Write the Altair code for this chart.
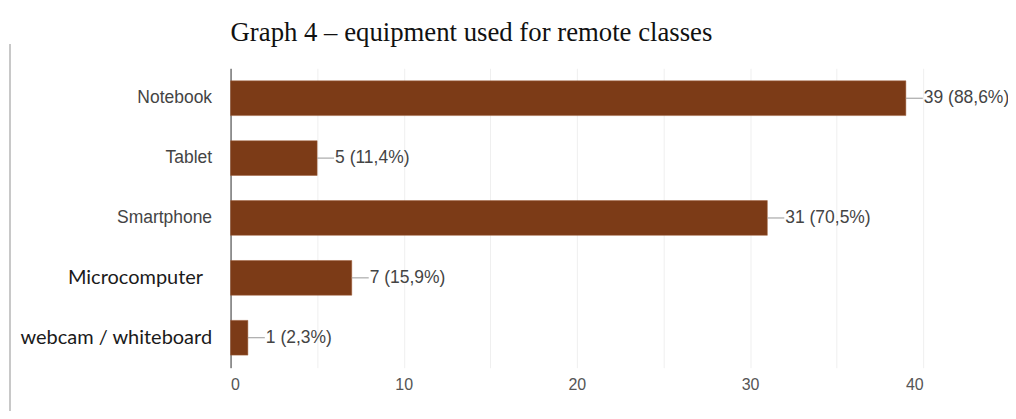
import altair as alt
import pandas as pd

categories = ["Notebook", "Tablet", "Smartphone", "Microcomputer", "webcam / whiteboard"]
counts = [39, 5, 31, 7, 1]
labels = ["39 (88,6%)", "5 (11,4%)", "31 (70,5%)", "7 (15,9%)", "1 (2,3%)"]
grid_vals = [0, 5, 10, 15, 20, 25, 30, 35, 40]

df = pd.DataFrame({"cat": categories, "n": counts, "lab": labels})

BROWN = "#7c3b17"

is_alt = "indexof(['Microcomputer','webcam / whiteboard'], datum.value) >= 0"
label_font = alt.ExprRef(is_alt + " ? 'Lato' : 'Liberation Sans'")
label_color = alt.ExprRef(is_alt + " ? '#1a1a1a' : '#444444'")
label_size = alt.ExprRef(is_alt + " ? 20 : 17.5")

x = alt.X(
    "n:Q",
    scale=alt.Scale(domain=[0, 40], nice=False),
    axis=alt.Axis(
        values=grid_vals,
        labelExpr="datum.value % 10 == 0 ? datum.label : ''",
        title=None,
        domain=False,
        ticks=False,
        grid=True,
        gridColor="#efefef",
        labelColor="#555555",
        labelFont="Liberation Sans",
        labelFontSize=16,
        labelPadding=9,
    ),
)
y = alt.Y(
    "cat:N",
    sort=categories,
    scale=alt.Scale(paddingInner=0.42, paddingOuter=0.21),
    axis=alt.Axis(
        title=None,
        ticks=False,
        domainColor="#333333",
        labelFont=label_font,
        labelColor=label_color,
        labelFontSize=label_size,
        labelPadding=alt.ExprRef("datum.value == 'Microcomputer' ? 28 : 19"),
        labelLimit=300,
    ),
)

base = alt.Chart(df)
bars = base.mark_bar(color=BROWN, stroke="#a0603a", strokeWidth=0.5).encode(x=x, y=y)
connectors = base.mark_rule(color="#999999", x2Offset=17).encode(
    x="n:Q", x2="n:Q", y=alt.Y("cat:N", sort=categories)
)
text = base.mark_text(
    align="left", dx=18, font="Liberation Sans", fontSize=17.5, color="#444444"
).encode(x="n:Q", y=alt.Y("cat:N", sort=categories), text="lab:N")

border = alt.Chart(df).mark_rule(color="#c8c8c8", strokeWidth=1.5).encode(
    x=alt.value(-221), y=alt.value(-24), y2=alt.value(351)
)

chart = (
    alt.layer(bars, connectors, text, border)
    .properties(
        width=694,
        height=300,
        autosize=alt.AutoSizeParams(type="none"),
        padding={"left": 223, "top": 60, "right": 85, "bottom": 43},
        title=alt.TitleParams(
            "Graph 4 \u2013 equipment used for remote classes",
            anchor="start",
            frame="group",
            font="Liberation Serif",
            fontSize=26.8,
            fontWeight="normal",
            color="#111111",
            offset=-3,
        ),
    )
    .configure_view(stroke=None)
)

chart.save("out.html", embed_options={"renderer": "svg", "actions": False})
